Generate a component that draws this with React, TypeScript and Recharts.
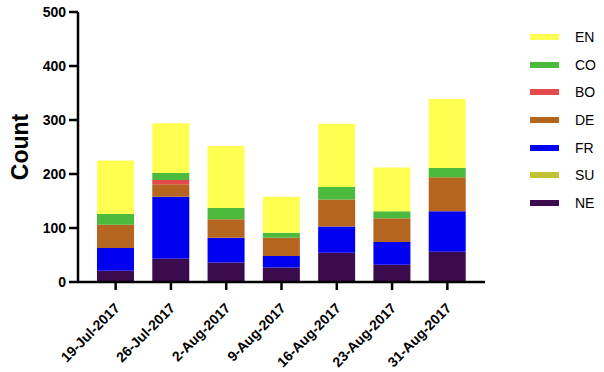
import React from "react";
import { Bar, BarChart, XAxis, YAxis } from "recharts";

const dates = ["19-Jul-2017", "26-Jul-2017", "2-Aug-2017", "9-Aug-2017", "16-Aug-2017", "23-Aug-2017", "31-Aug-2017"];
const NE = [21, 43, 36, 27, 54, 32, 56];
const SU = [0, 0, 0, 0, 0, 0, 0];
const FR = [42, 115, 46, 21, 49, 42, 75];
const DE = [43, 23, 34, 34, 50, 44, 63];
const BO = [0, 8, 0, 0, 0, 0, 0];
const CO = [20, 13, 21, 9, 23, 13, 17];
const EN = [99, 92, 115, 67, 117, 81, 128];
const yTicks = [0, 100, 200, 300, 400, 500];

// bottom-up stack order
const series = [
  { key: "NE", color: "#3b0b4d" },
  { key: "SU", color: "#c2c235" },
  { key: "FR", color: "#0000f0" },
  { key: "DE", color: "#b5651f" },
  { key: "BO", color: "#e34a4a" },
  { key: "CO", color: "#4cba3c" },
  { key: "EN", color: "#ffff52" },
];

const data = dates.map((d, i) => ({
  date: d,
  NE: NE[i],
  SU: SU[i],
  FR: FR[i],
  DE: DE[i],
  BO: BO[i],
  CO: CO[i],
  EN: EN[i],
}));

const font = "Arial, 'Liberation Sans', sans-serif";

function DateTick({ x, y, payload }: any) {
  return (
    <g transform={`translate(${x + 5},${y + 17})`}>
      <text
        textAnchor="end"
        transform="rotate(-45)"
        fontSize={14}
        fontWeight="bold"
        fontFamily={font}
        fill="#000"
      >
        {payload.value}
      </text>
    </g>
  );
}

function SideLegend() {
  return (
    <div style={{ position: "absolute", left: 530, top: 23, fontFamily: font, fontSize: 14 }}>
      {[...series].reverse().map((s) => (
        <div key={s.key} style={{ display: "flex", alignItems: "center", height: 27.7 }}>
          <span style={{ display: "inline-block", width: 29, height: 6, background: s.color, marginRight: 16 }} />
          <span>{s.key}</span>
        </div>
      ))}
    </div>
  );
}

export default function App() {
  return (
    <div style={{ position: "absolute", left: 0, top: 0, width: 604, height: 372, background: "#fff" }}>
      <BarChart
        width={604}
        height={372}
        data={data}
        margin={{ top: 12, right: 119, bottom: 10, left: 0 }}
        barSize={37}
      >
        <XAxis
          dataKey="date"
          interval={0}
          height={80}
          padding={{ left: 10, right: 10 }}
          axisLine={{ stroke: "#000", strokeWidth: 2.5 }}
          tickLine={{ stroke: "#000", strokeWidth: 2.5 }}
          tickSize={8}
          tick={<DateTick />}
        />
        <YAxis
          width={78}
          domain={[0, 500]}
          ticks={yTicks}
          axisLine={{ stroke: "#000", strokeWidth: 2.5 }}
          tickLine={{ stroke: "#000", strokeWidth: 2.5 }}
          tickSize={9}
          tickMargin={3}
          tick={{ fontSize: 14, fontWeight: "bold", fill: "#000", fontFamily: font }}
          label={{
            value: "Count",
            angle: -90,
            position: "insideLeft",
            offset: 20,
            style: { fontSize: 23, fontWeight: "bold", fill: "#000", fontFamily: font, textAnchor: "middle" },
          }}
        />
        {series.map((s) => (
          <Bar key={s.key} dataKey={s.key} stackId="a" fill={s.color} isAnimationActive={false} />
        ))}
      </BarChart>
      <SideLegend />
    </div>
  );
}
